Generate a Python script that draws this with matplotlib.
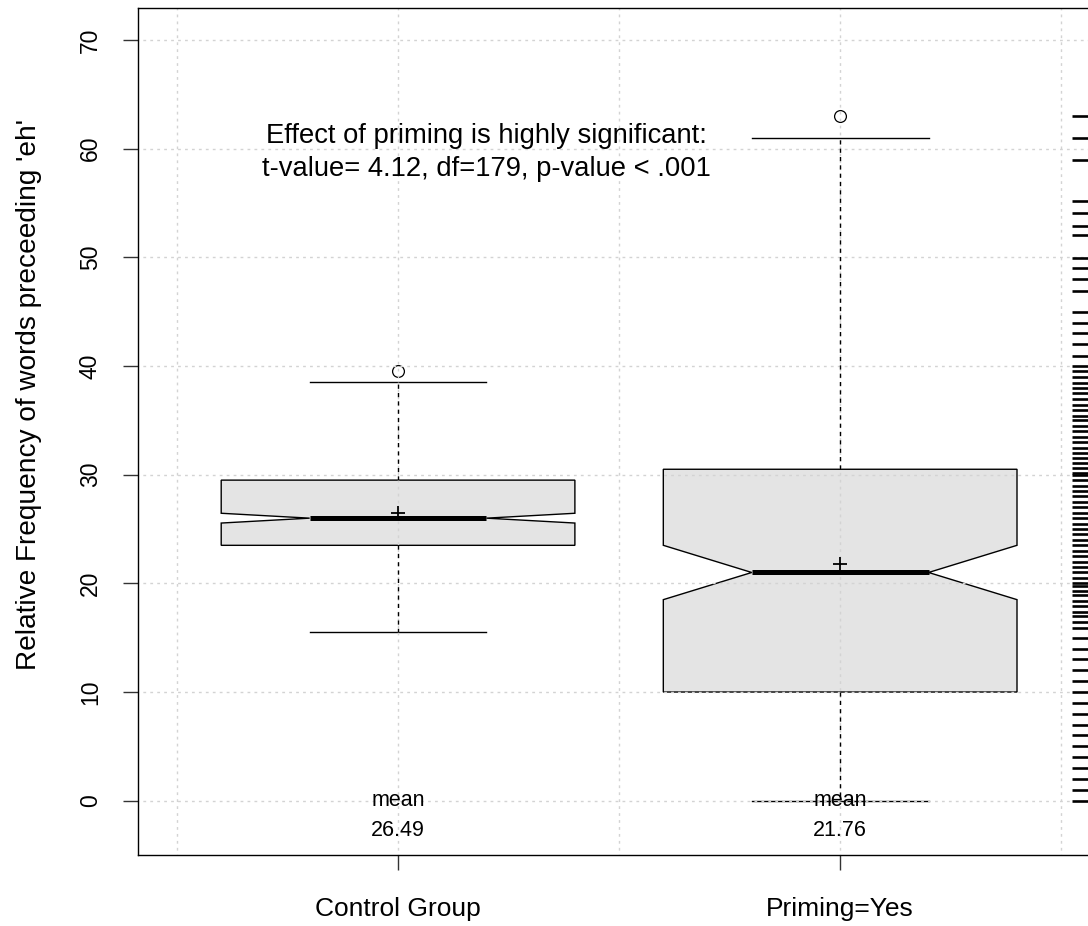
import matplotlib
matplotlib.use("Agg")
import matplotlib.pyplot as plt
import matplotlib.transforms as mtransforms

plt.rcParams['font.family'] = ['Liberation Sans', 'DejaVu Sans']

# ---- data ----
groups = ["Control Group", "Priming=Yes"]
q1 = [23.5, 10.0]
medians = [26.0, 21.0]
q3 = [29.5, 30.5]
notch_lo = [25.55, 18.5]
notch_hi = [26.45, 23.5]
whisk_lo = [15.5, 0.0]
whisk_hi = [38.5, 61.0]
outliers = [[39.5], [63.0]]
means = [26.49, 21.76]
mean_labels = ["26.49", "21.76"]

rug_values = (list(range(0, 16)) +
              [15.9, 16.4, 16.95, 17.4, 17.9, 18.4, 18.95, 19.3, 19.8,
               20.0, 20.5, 21.0, 21.5, 22.0, 22.5, 23.0, 23.5, 24.0, 24.5,
               25.0, 25.5, 26.0, 26.5, 27.0, 27.5, 28.0, 28.5, 29.0, 29.5,
               30.0, 30.2, 30.6, 31.05, 31.5, 32.0, 32.45, 33.0, 33.5, 34.0,
               34.5, 35.0, 35.4, 35.97, 36.4, 37.0, 37.5, 37.97, 38.4, 39.0,
               39.5, 39.96, 40.9, 42.0, 43.0, 44.0, 45.0, 46.9, 48.0, 49.0,
               49.9, 52.1, 52.9, 54.1, 55.2, 59.0, 61.0, 63.0])

annotation = "Effect of priming is highly significant:\nt-value= 4.12, df=179, p-value < .001"
ylabel = "Relative Frequency of words preceeding 'eh'"
yticks = [0, 10, 20, 30, 40, 50, 60, 70]

W, H = 1088, 926
fig = plt.figure(figsize=(W / 100, H / 100), dpi=100)
left, right, top, bottom = 138, 1101, 8, 855
ax = fig.add_axes([left / W, 1 - bottom / H, (right - left) / W, (bottom - top) / H])

stats = []
for i in range(len(groups)):
    stats.append(dict(med=medians[i], q1=q1[i], q3=q3[i], whislo=whisk_lo[i],
                      whishi=whisk_hi[i], fliers=outliers[i], cilo=notch_lo[i],
                      cihi=notch_hi[i], mean=means[i], label=groups[i]))

ax.bxp(stats, positions=[1, 2], widths=0.8, shownotches=True, patch_artist=True,
       showmeans=True, manage_ticks=False,
       boxprops=dict(facecolor='#e4e4e4', edgecolor='black', linewidth=1.0, zorder=1),
       medianprops=dict(color='black', linewidth=3.6, zorder=3, solid_capstyle='butt'),
       whiskerprops=dict(color='black', linewidth=1.0, linestyle=(0, (3, 3)), zorder=2.6),
       capprops=dict(color='black', linewidth=1.0, zorder=2),
       flierprops=dict(marker='o', markerfacecolor='none', markeredgecolor='black',
                       markersize=8.5, markeredgewidth=0.9),
       meanprops=dict(marker='+', markeredgecolor='black', markersize=10,
                      markeredgewidth=1.3, zorder=4))

# grid on top (lightgray dotted)
for yv in yticks:
    ax.axhline(yv, color='#d3d3d3', linestyle=(1.5, (2, 3)), linewidth=1.0, zorder=2.5)
for xv in [0.5, 1.0, 1.5, 2.0, 2.5]:
    ax.axvline(xv, color='#d3d3d3', linestyle=(1.5, (2, 3)), linewidth=1.0, zorder=2.5)

# rug on the right side
trans = mtransforms.blended_transform_factory(ax.transAxes, ax.transData)
ax.hlines(rug_values, 0.97, 1.0, transform=trans, color='black', linewidth=1.9, zorder=3)

# mean labels
for i, (m, lab) in enumerate(zip(means, mean_labels)):
    ax.text(i + 1, 0, "mean", ha='center', va='center', fontsize=15.5, zorder=5)
    ax.text(i + 1, -2.7, lab, ha='center', va='center', fontsize=15.5, zorder=5)

ax.text(1.2, 59.65, annotation, ha='center', va='center', fontsize=19.7,
        linespacing=1.32, zorder=5)

ax.set_xlim(0.4118, 2.59)
ax.set_ylim(-5, 72.95)
ax.set_xticks([1, 2])
ax.set_xticklabels(groups, fontsize=19)
ax.set_yticks(yticks)
ax.set_yticklabels([str(v) for v in yticks], fontsize=16.5, rotation=90, va='center')
ax.tick_params(axis='both', length=11, width=1.0, color='#333333')
ax.tick_params(axis='x', pad=19)
ax.tick_params(axis='y', pad=15)
fig.text(29 / W, 1 - 395 / H, ylabel, rotation=90, ha='center', va='center',
         fontsize=20.2)
for s in ['left', 'bottom', 'top']:
    ax.spines[s].set_color('black')
    ax.spines[s].set_linewidth(1.0)
ax.spines['right'].set_visible(False)

fig.savefig("out.png", dpi=100)
